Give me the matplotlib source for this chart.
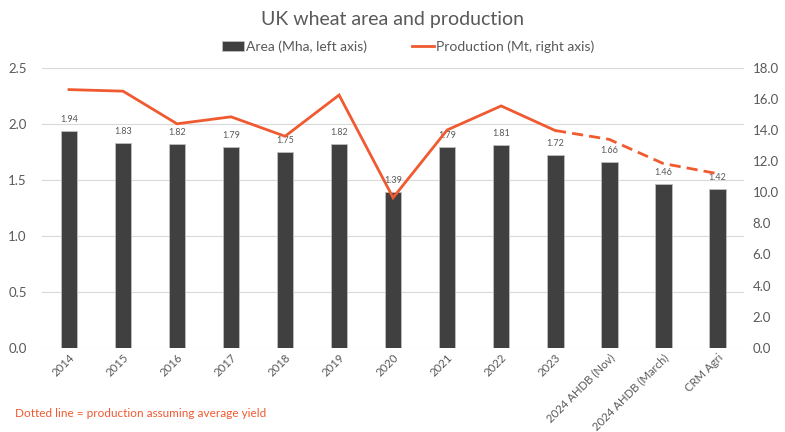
import matplotlib
matplotlib.use("Agg")
import matplotlib.pyplot as plt
import numpy as np

plt.rcParams['font.family'] = ['Lato', 'DejaVu Sans']

categories = ["2014", "2015", "2016", "2017", "2018", "2019", "2020", "2021",
              "2022", "2023", "2024 AHDB (Nov)", "2024 AHDB (March)", "CRM Agri"]
area = [1.94, 1.83, 1.82, 1.79, 1.75, 1.82, 1.39, 1.79, 1.81, 1.72, 1.66, 1.46, 1.42]
production = [16.6, 16.5, 14.4, 14.85, 13.6, 16.25, 9.65, 14.0, 15.55, 13.97, 13.4, 11.85, 11.2]
last_actual = 9  # 2023, after this the line is dashed

bar_color = "#404040"
line_color = "#F05A30"
text_color = "#595959"

fig = plt.figure(figsize=(7.85, 4.32), dpi=100)
ax = fig.add_axes([0.0535, 0.195, 0.8945, 0.648])
ax2 = ax.twinx()

x = np.arange(len(categories))
ax.bar(x, area, width=0.31, color=bar_color, edgecolor="#BFBFBF",
       linewidth=0.6, label="Area (Mha, left axis)", zorder=2)
for xi, v in zip(x, area):
    ax.annotate(f"{v:.2f}", (xi, v), xytext=(0, 5), textcoords="offset points",
                ha="center", va="bottom", fontsize=6.5, color=text_color)

ax2.plot(x[:last_actual + 1], production[:last_actual + 1], color=line_color,
         lw=2.0, solid_joinstyle="miter", label="Production (Mt, right axis)", zorder=3)
ax2.plot(x[last_actual:], production[last_actual:], color=line_color,
         lw=2.0, dashes=(4, 2.2), zorder=3)

ax.set_ylim(0, 2.5)
ax.set_yticks(np.arange(0, 2.51, 0.5))
ax.set_yticklabels([f"{v:.1f}" for v in np.arange(0, 2.51, 0.5)])
ax2.set_ylim(0, 18)
ax2.set_yticks(np.arange(0, 18.1, 2))
ax2.set_yticklabels([f"{v:.1f}" for v in np.arange(0, 18.1, 2)])
ax.set_xlim(-0.5, len(categories) - 0.5)
ax.set_xticks(x)
ax.set_xticklabels(categories, rotation=45, ha="right", rotation_mode="anchor")

ax.grid(axis="y", color="#D9D9D9", lw=0.8, zorder=0)
ax.set_axisbelow(True)
for a in (ax, ax2):
    for s in a.spines.values():
        s.set_visible(False)
    a.tick_params(length=0, colors=text_color, labelsize=9.5)
ax.tick_params(axis="y", pad=11)
ax2.tick_params(axis="y", pad=6)
ax.tick_params(axis="x", labelsize=8.2, pad=3)

fig.text(0.5, 0.955, "UK wheat area and production", ha="center", va="center",
         fontsize=14, color=text_color)
h1, l1 = ax.get_legend_handles_labels()
h2, l2 = ax2.get_legend_handles_labels()
fig.legend(h1 + h2, l1 + l2, loc="center", bbox_to_anchor=(0.52, 0.892), ncol=2,
           frameon=False, fontsize=10, labelcolor=text_color, handlelength=1.6,
           handletextpad=0.15, columnspacing=3.2)
fig.text(0.019, 0.043, "Dotted line = production assuming average yield",
         fontsize=8.5, color=line_color, va="center")

fig.savefig("out.png", dpi=100)
